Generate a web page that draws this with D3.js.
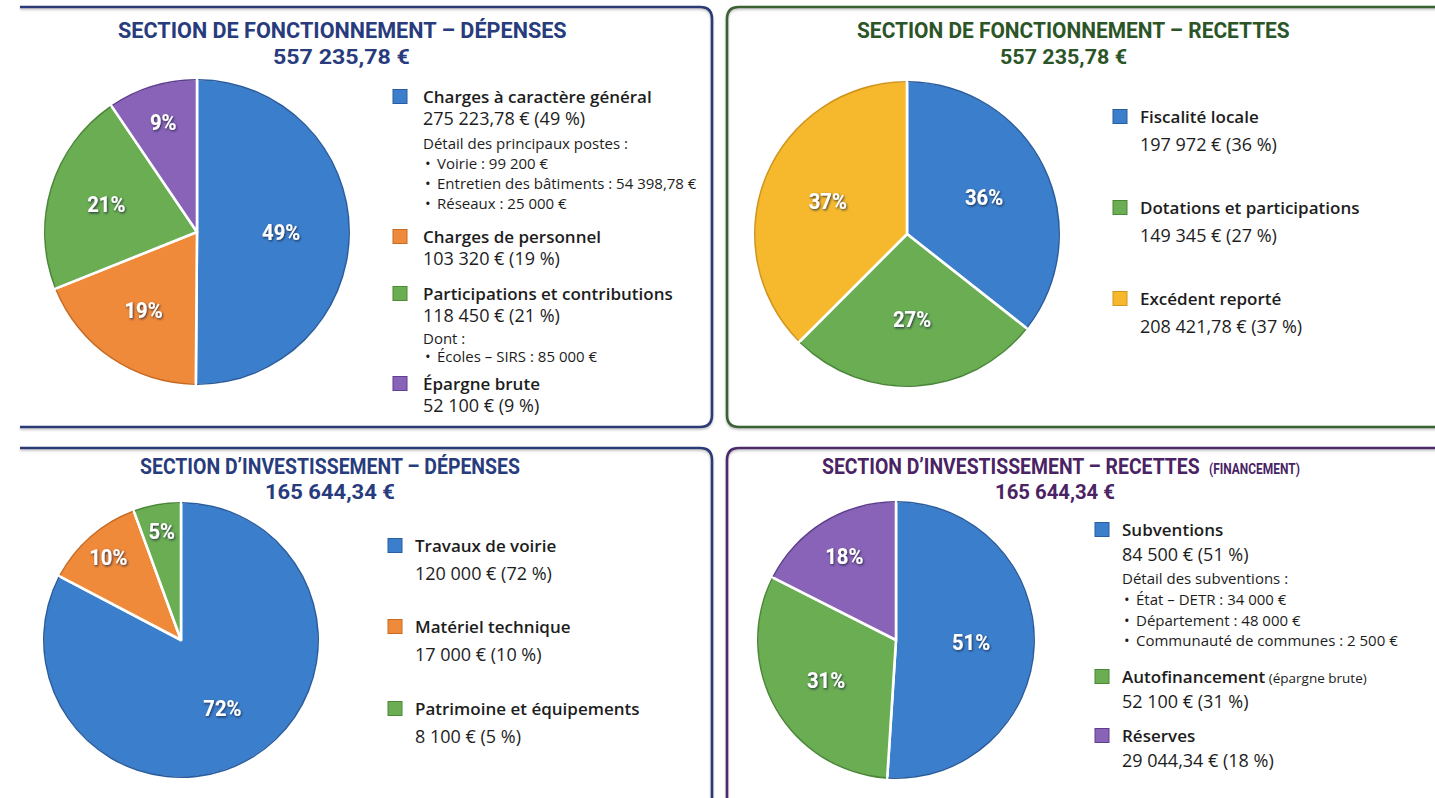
<!DOCTYPE html>
<html>
<head>
<meta charset="utf-8">
<script src="https://cdn.jsdelivr.net/npm/d3@7"></script>
<style>
    body { margin: 0; background: #fff; }
    svg { display: block; }
    .title { font-family: Roboto, "DejaVu Sans Condensed", sans-serif; font-weight: 700; }
    .leg { font-family: "Open Sans", Lato, sans-serif; fill: #1d1d1d; }
    .pct { font-family: Roboto, "DejaVu Sans Condensed", sans-serif; font-weight: 700; fill: #fff; }
</style>
</head>
<body>
<svg id="chart" width="1435" height="798"></svg>
<script>
// ---- data ----
const fdLabels = ["Charges à caractère général", "Charges de personnel", "Participations et contributions", "Épargne brute"];
const fdValues = [275223.78, 103320, 118450, 52100];
const fdPercents = [49, 19, 21, 9];
const fdTotal = 557235.78;
const fdDetailNames = ["Voirie", "Entretien des bâtiments", "Réseaux"];
const fdDetailValues = [99200, 54398.78, 25000];
const partDetailNames = ["Écoles – SIRS"];
const partDetailValues = [85000];

const frLabels = ["Fiscalité locale", "Dotations et participations", "Excédent reporté"];
const frValues = [197972, 149345, 208421.78];
const frPercents = [36, 27, 37];
const frTotal = 557235.78;

const idLabels = ["Travaux de voirie", "Matériel technique", "Patrimoine et équipements"];
const idValues = [120000, 17000, 8100];
const idPercents = [72, 10, 5];
const idTotal = 165644.34;

const irLabels = ["Subventions", "Autofinancement", "Réserves"];
const irNotes = ["", " (épargne brute)", ""];
const irValues = [84500, 52100, 29044.34];
const irPercents = [51, 31, 18];
const irTotal = 165644.34;
const subvDetailNames = ["État – DETR", "Département", "Communauté de communes"];
const subvDetailValues = [34000, 48000, 2500];

// ---- helpers ----
const loc = d3.formatLocale({decimal: ",", thousands: "\u00a0", grouping: [3], currency: ["", ""]});
const f0 = loc.format(",.0f");
const f2 = loc.format(",.2f");
const euro = v => (Number.isInteger(v) ? f0(v) : f2(v)) + "\u00a0€";

const col = {
    blue:   {fill: "#3b7fcc", edge: "#2a5d9f"},
    orange: {fill: "#ef8a3b", edge: "#c86a22"},
    green:  {fill: "#6aad53", edge: "#4a8838"},
    purple: {fill: "#8963b7", edge: "#5e3f8e"},
    yellow: {fill: "#f6b92e", edge: "#d1951a"}
};

const svg = d3.select("#chart");
const defs = svg.append("defs");

defs.append("filter").attr("id", "txtShadow")
    .attr("x", "-30%").attr("y", "-30%").attr("width", "160%").attr("height", "160%")
    .append("feDropShadow")
        .attr("dx", 1).attr("dy", 1.2).attr("stdDeviation", 1.2)
        .attr("flood-color", "#13213d").attr("flood-opacity", 0.85);

defs.append("filter").attr("id", "panelShadow")
    .attr("x", "-5%").attr("y", "-5%").attr("width", "110%").attr("height", "110%")
    .append("feDropShadow")
        .attr("dx", 0).attr("dy", 1.5).attr("stdDeviation", 1.2)
        .attr("flood-color", "#777").attr("flood-opacity", 0.5);

// draws a bold title squeezed horizontally to a given width (condensed look)
function squeezedText(g, t, size, color) {
    let el = g.append("text")
        .attr("class", "title")
        .style("font-size", size + "px")
        .attr("fill", color)
        .text(t.text);
    let natural = el.node().getComputedTextLength();
    el.attr("transform", `translate(${t.x},${t.y}) scale(${t.w / natural},1)`);
    return el;
}

function drawPanel(p) {
    let g = svg.append("g");

    // frame (sides outside the picture are left open)
    g.append("path")
        .attr("d", p.border)
        .attr("fill", "none")
        .attr("stroke", p.stroke)
        .attr("stroke-width", 2.6)
        .attr("filter", "url(#panelShadow)");

    // titles
    squeezedText(g, p.title, 22, p.color);
    if (p.subTitle) squeezedText(g, p.subTitle, 14, p.color);
    squeezedText(g, {text: euro(p.total), x: p.amount.x, y: p.amount.y, w: p.amount.w}, 21, p.color);

    // pie
    let pie = d3.pie().sort(null).value(d => d.value);
    let slices = pie(p.labels.map((l, i) => ({label: l, value: p.values[i], pct: p.percents[i], color: p.colors[i], lr: p.labelR[i]})));
    let arc = d3.arc().innerRadius(0).outerRadius(p.pie.r);
    let rim = d3.arc().innerRadius(p.pie.r - 1.6).outerRadius(p.pie.r);

    let pg = g.append("g").attr("transform", `translate(${p.pie.cx},${p.pie.cy})`);

    pg.selectAll("path.slice")
        .data(slices)
        .join("path")
            .attr("class", "slice")
            .attr("d", arc)
            .attr("fill", d => d.data.color.fill)
            .attr("stroke", "#fff")
            .attr("stroke-width", 2.6)
            .attr("stroke-linejoin", "round");

    pg.selectAll("path.rim")
        .data(slices)
        .join("path")
            .attr("class", "rim")
            .attr("d", d => rim({startAngle: d.startAngle + 0.008, endAngle: d.endAngle - 0.008}))
            .attr("fill", d => d.data.color.edge);

    pg.selectAll("text.pct")
        .data(slices)
        .join("text")
            .attr("class", "pct")
            .attr("transform", d => {
                let c = d3.arc().innerRadius(0).outerRadius(2 * p.pie.r * d.data.lr).centroid(d);
                return `translate(${c[0]},${c[1]}) scale(0.92,1)`;
            })
            .attr("text-anchor", "middle")
            .attr("dy", "0.36em")
            .style("font-size", "22px")
            .attr("filter", "url(#txtShadow)")
            .text(d => d.data.pct + "%");

    // legend
    let lg = g.append("g");
    p.labels.forEach((label, i) => {
        let y = p.legend.ys[i];
        let c = p.colors[i];
        lg.append("rect")
            .attr("x", p.legend.sx).attr("y", y - 7.5)
            .attr("width", 14).attr("height", 14)
            .attr("fill", c.fill)
            .attr("stroke", c.edge).attr("stroke-width", 1);

        let name = lg.append("text")
            .attr("class", "leg")
            .attr("x", p.legend.tx).attr("y", y + 6)
            .style("font-size", "17px")
            .style("font-weight", 600);
        name.append("tspan").text(label);
        if (p.notes && p.notes[i]) {
            name.append("tspan")
                .style("font-size", "13.5px")
                .style("font-weight", 400)
                .text(p.notes[i]);
        }

        lg.append("text")
            .attr("class", "leg")
            .attr("x", p.legend.tx).attr("y", y + p.legend.valueDy + 6)
            .style("font-size", "18px")
            .text(`${euro(p.values[i])} (${p.percents[i]}\u00a0%)`);

        let det = p.details && p.details[i];
        if (det) {
            let dy = y + det.dy;
            lg.append("text")
                .attr("class", "leg")
                .attr("x", p.legend.tx).attr("y", dy + 5)
                .style("font-size", "15px")
                .text(det.head);
            det.names.forEach((n, k) => {
                let by = dy + det.first + k * det.step;
                lg.append("text")
                    .attr("class", "leg")
                    .attr("x", p.legend.tx + 2).attr("y", by + 5)
                    .style("font-size", "15px")
                    .text("•");
                lg.append("text")
                    .attr("class", "leg")
                    .attr("x", p.legend.tx + 14).attr("y", by + 5)
                    .style("font-size", "15px")
                    .text(`${n}\u00a0: ${euro(det.values[k])}`);
            });
        }
    });
}

// ---- panels ----
drawPanel({
    border: "M20,7 H700 Q712,7 712,19 V415 Q712,427 700,427 H20",
    stroke: "#293a78",
    color: "#283c7d",
    title: {text: "SECTION DE FONCTIONNEMENT – DÉPENSES", x: 118, y: 38, w: 449},
    amount: {x: 273, y: 64, w: 137},
    total: fdTotal,
    labels: fdLabels, values: fdValues, percents: fdPercents,
    colors: [col.blue, col.orange, col.green, col.purple],
    labelR: [0.55, 0.62, 0.62, 0.75],
    pie: {cx: 197, cy: 232, r: 153},
    legend: {sx: 393, tx: 423, ys: [97, 237, 294, 384], valueDy: 22},
    details: [
        {head: "Détail des principaux postes :", names: fdDetailNames, values: fdDetailValues, dy: 47, first: 20, step: 20},
        null,
        {head: "Dont :", names: partDetailNames, values: partDetailValues, dy: 45, first: 18, step: 19},
        null
    ]
});

drawPanel({
    border: "M1440,7 H739 Q727,7 727,19 V415 Q727,427 739,427 H1440",
    stroke: "#3a6233",
    color: "#2c5527",
    title: {text: "SECTION DE FONCTIONNEMENT – RECETTES", x: 857, y: 38, w: 433},
    amount: {x: 1000, y: 64, w: 127},
    total: frTotal,
    labels: frLabels, values: frValues, percents: frPercents,
    colors: [col.blue, col.green, col.yellow],
    labelR: [0.56, 0.56, 0.56],
    pie: {cx: 907, cy: 234, r: 153},
    legend: {sx: 1113, tx: 1140, ys: [117, 208, 299], valueDy: 28}
});

drawPanel({
    border: "M20,448 H700 Q712,448 712,460 V805",
    stroke: "#293a78",
    color: "#283c7d",
    title: {text: "SECTION D’INVESTISSEMENT – DÉPENSES", x: 140, y: 474, w: 380},
    amount: {x: 265, y: 499, w: 130},
    total: idTotal,
    labels: idLabels, values: idValues, percents: idPercents,
    colors: [col.blue, col.orange, col.green],
    labelR: [0.58, 0.8, 0.8],
    pie: {cx: 181, cy: 640, r: 138},
    legend: {sx: 388, tx: 415, ys: [546, 627, 709], valueDy: 28}
});

drawPanel({
    border: "M1440,448 H739 Q727,448 727,460 V805",
    stroke: "#4d2a6c",
    color: "#4a2364",
    title: {text: "SECTION D’INVESTISSEMENT – RECETTES", x: 822, y: 474, w: 378},
    subTitle: {text: "(FINANCEMENT)", x: 1209, y: 474, w: 91},
    amount: {x: 995, y: 499, w: 120},
    total: irTotal,
    labels: irLabels, notes: irNotes, values: irValues, percents: irPercents,
    colors: [col.blue, col.green, col.purple],
    labelR: [0.54, 0.58, 0.71],
    pie: {cx: 896, cy: 640, r: 139},
    legend: {sx: 1095, tx: 1122, ys: [530, 677, 736], valueDy: 25},
    details: [
        {head: "Détail des subventions :", names: subvDetailNames, values: subvDetailValues, dy: 49, first: 21, step: 20.5},
        null,
        null
    ]
});
</script>
</body>
</html>
